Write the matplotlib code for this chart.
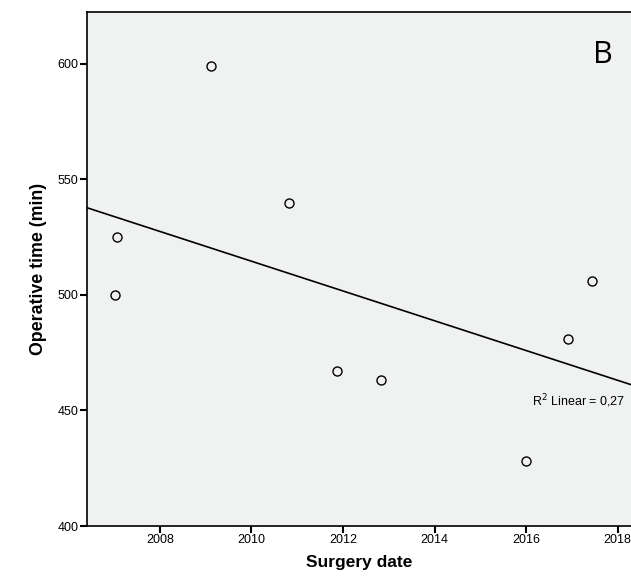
import matplotlib.pyplot as plt
import numpy as np

plt.rcParams['font.family'] = ['Liberation Sans', 'DejaVu Sans']

# データ
surgery_date = [2007.02, 2007.06, 2009.11, 2010.82, 2011.86, 2012.83, 2015.99, 2016.91, 2017.43]
operative_time = [500, 525, 599, 540, 467, 463, 428, 481, 506]
r2_label = "R$^2$ Linear = 0,27"
panel_label = "B"

xlim = (2006.41, 2018.29)
ylim = (400, 622.5)

fig = plt.figure(figsize=(6.31, 5.8), dpi=100)
ax = fig.add_axes([87/631, 1 - 526/580, 1 - 87/631, (526 - 12)/580])
ax.set_facecolor('#f0f1f1')

# 散布図
ax.plot(surgery_date, operative_time, 'o', mfc='none', mec='black', ms=6.5, mew=1.0, zorder=3)

# 回帰直線
slope, intercept = np.polyfit(surgery_date, operative_time, 1)
xs = np.array(xlim)
ax.plot(xs, slope * xs + intercept, color='black', lw=1.2, zorder=2)

ax.set_xlim(*xlim)
ax.set_ylim(*ylim)
ax.set_xticks([2008, 2010, 2012, 2014, 2016, 2018])
ax.set_yticks([400, 450, 500, 550, 600])
ax.tick_params(direction='out', length=5, width=1.5, labelsize=9, pad=1)

for s in ['left', 'bottom', 'top']:
    ax.spines[s].set_linewidth(1.2)
ax.spines['right'].set_visible(False)

ax.set_xlabel('Surgery date', fontsize=12.5, fontweight='bold', labelpad=6)
ax.set_ylabel('Operative time (min)', fontsize=12.8, fontweight='bold', labelpad=8)

ax.text(2016.12, 454, r2_label, fontsize=9, ha='left', va='center')
ax.text(2017.68, 604, panel_label, fontsize=22, ha='center', va='center', family=['Open Sans', 'DejaVu Sans'])

fig.savefig('out.png', dpi=100)
